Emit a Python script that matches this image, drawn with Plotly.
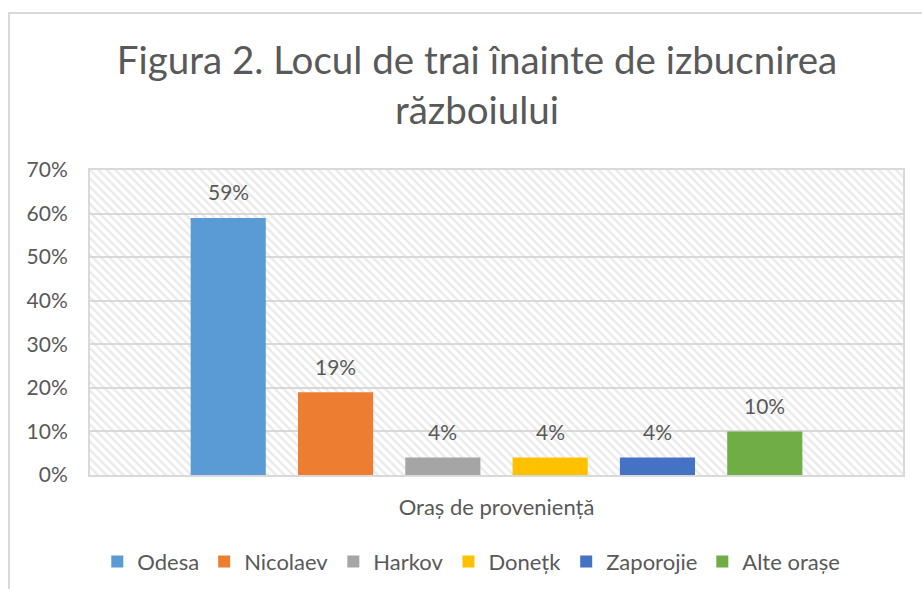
import plotly.graph_objects as go

category = ["Oraș de proveniență"]
series_names = ["Odesa", "Nicolaev", "Harkov", "Donețk", "Zaporojie", "Alte orașe"]
series_values = [0.59, 0.19, 0.04, 0.04, 0.04, 0.10]
series_colors = ["#5B9BD5", "#ED7D31", "#A5A5A5", "#FFC000", "#4472C4", "#70AD47"]
y_max = 0.70

FONT = "Lato"
TXT = "#595959"

W, H = 922, 589
ML, MR, MT, MB = 90, 19, 170, 114
BARGAP, GROUPGAP = 0.208, 0.30
plot_w = W - ML - MR
plot_h = H - MT - MB
slot = plot_w * (1 - BARGAP) / len(series_names)

fig = go.Figure()

# hatched plot-area background
fig.add_trace(go.Bar(
    x=[0.5], y=[y_max], width=[1], xaxis="x", yaxis="y",
    marker=dict(color="rgba(0,0,0,0)", line=dict(width=0),
                pattern=dict(shape="\\", fgcolor="#d4d4d4", bgcolor="rgba(0,0,0,0)",
                             size=6, solidity=0.4)),
    showlegend=False, hoverinfo="skip",
))

annotations = []
n = len(series_names)
for i, (name, val, col) in enumerate(zip(series_names, series_values, series_colors)):
    fig.add_trace(go.Bar(
        x=category, y=[val], name=name, xaxis="x2", yaxis="y",
        marker=dict(color=col, line=dict(width=0)),
    ))
    annotations.append(dict(
        x=category[0], xref="x2", y=val, yref="y", text=f"{val:.0%}",
        showarrow=False, xshift=(i - (n - 1) / 2) * slot, yshift=26,
        xanchor="center", yanchor="middle",
        font=dict(size=21, color=TXT, family=FONT),
    ))

fig.update_layout(
    width=W, height=H,
    margin=dict(l=ML, r=MR, t=MT, b=MB, autoexpand=False),
    paper_bgcolor="white", plot_bgcolor="white",
    font=dict(family=FONT, color=TXT),
    title=dict(text="Figura 2. Locul de trai înainte de izbucnirea<br>războiului",
               x=477 / W, xanchor="center", y=1 - 74 / H, yanchor="middle",
               font=dict(size=38.5, color=TXT, family=FONT)),
    barmode="group", bargap=BARGAP, bargroupgap=GROUPGAP,
    xaxis=dict(range=[0, 1], visible=False, showgrid=False, zeroline=False),
    xaxis2=dict(overlaying="x", side="bottom", type="category",
                showgrid=False, zeroline=False, showline=True, linecolor="#d9d9d9",
                linewidth=2, mirror=True,
                tickfont=dict(size=22, color=TXT, family=FONT), ticklabelstandoff=12),
    yaxis=dict(range=[0, y_max], dtick=0.1, tickformat=".0%",
               showgrid=True, gridcolor="#d9d9d9", gridwidth=2, zeroline=False,
               showline=True, linecolor="#d9d9d9", linewidth=2, mirror=True,
               tickfont=dict(size=21, color=TXT, family=FONT), ticklabelstandoff=16),
    legend=dict(orientation="h", x=0.469, xanchor="center", y=-0.215, yanchor="top",
                font=dict(size=22, color=TXT, family=FONT), itemwidth=30,
                traceorder="normal"),
    annotations=annotations,
    shapes=[dict(type="rect", xref="paper", yref="paper",
                 x0=(9 - ML) / plot_w, x1=(930 - ML) / plot_w,
                 y0=-0.5, y1=1 + (MT - 13) / plot_h,
                 line=dict(color="#d9d9d9", width=2), fillcolor="rgba(0,0,0,0)",
                 layer="below")],
)

fig.write_html("out.html", config={"displayModeBar": False},
               post_script="document.body.style.margin='0px';")
